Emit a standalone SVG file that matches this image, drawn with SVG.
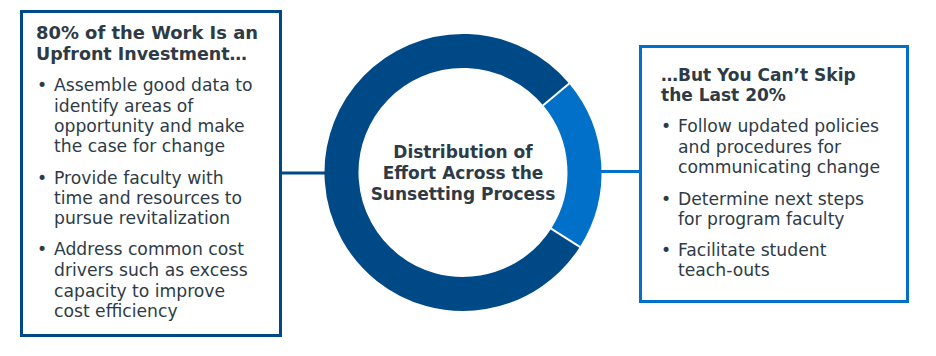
<svg xmlns="http://www.w3.org/2000/svg" width="936" height="356" viewBox="0 0 936 356">
<style>
.box{fill:#fff;stroke-width:3}
.t{font-family:"DejaVu Sans",Verdana,sans-serif;fill:#2e3b46}
.h{font-size:17px;font-weight:bold}
.b{font-size:17.2px}
.c{font-size:17px;font-weight:bold;text-anchor:middle}
</style>
<rect width="936" height="356" fill="#fff"/>
<g id="connectors">
<line x1="281" y1="173" x2="327" y2="173" stroke="#004987" stroke-width="3"/>
<line x1="599" y1="171.5" x2="639" y2="171.5" stroke="#0070c9" stroke-width="3"/>
</g>
<g id="donut">
<path d="M565.47 237.78 A121.5 121.5 0 1 1 556.07 94.40" fill="none" stroke="#004987" stroke-width="34"/>
<path d="M556.07 94.40 A121.5 121.5 0 0 1 565.47 237.78" fill="none" stroke="#0070c9" stroke-width="34"/>
<line x1="542.66" y1="105.65" x2="569.47" y2="83.15" stroke="#fff" stroke-width="2"/>
<line x1="550.71" y1="228.38" x2="580.23" y2="247.18" stroke="#fff" stroke-width="2"/>
<text class="t c" x="463" y="158">Distribution of</text>
<text class="t c" x="463" y="179">Effort Across the</text>
<text class="t c" x="463" y="200">Sunsetting Process</text>
</g>
<g id="left-box">
<rect class="box" x="21.5" y="11.5" width="259" height="324" stroke="#004987"/>
<text class="t h" x="36" y="39" textLength="222" lengthAdjust="spacingAndGlyphs">80% of the Work Is an</text>
<text class="t h" x="36" y="60" textLength="211" lengthAdjust="spacingAndGlyphs">Upfront Investment…</text>
<g class="t b">
<text x="37" y="91">•</text>
<text x="54" y="91">Assemble good data to</text>
<text x="54" y="111.5">identify areas of</text>
<text x="54" y="132">opportunity and make</text>
<text x="54" y="152">the case for change</text>
<text x="37" y="183.5">•</text>
<text x="54" y="183.5">Provide faculty with</text>
<text x="54" y="204">time and resources to</text>
<text x="54" y="224">pursue revitalization</text>
<text x="37" y="255">•</text>
<text x="54" y="255">Address common cost</text>
<text x="54" y="275.5">drivers such as excess</text>
<text x="54" y="296.5">capacity to improve</text>
<text x="54" y="317">cost efficiency</text>
</g>
</g>
<g id="right-box">
<rect class="box" x="640.5" y="46.5" width="267" height="255" stroke="#0070c9"/>
<text class="t h" x="661" y="81">…But You Can’t Skip</text>
<text class="t h" x="661" y="101">the Last 20%</text>
<g class="t b">
<text x="661" y="132">•</text>
<text x="678" y="132">Follow updated policies</text>
<text x="678" y="152.5">and procedures for</text>
<text x="678" y="173">communicating change</text>
<text x="661" y="204.5">•</text>
<text x="678" y="204.5">Determine next steps</text>
<text x="678" y="225">for program faculty</text>
<text x="661" y="256">•</text>
<text x="678" y="256">Facilitate student</text>
<text x="678" y="276">teach-outs</text>
</g>
</g>
</svg>
